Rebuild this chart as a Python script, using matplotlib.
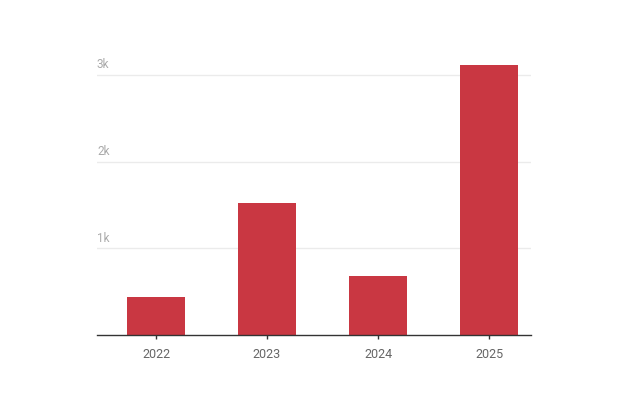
import numpy as np
import matplotlib
matplotlib.use("Agg")
import matplotlib.pyplot as plt

years = ["2022", "2023", "2024", "2025"]
values = [442, 1519, 680, 3110]
ytick_vals = [1000, 2000, 3000]
ytick_labels = ["1k", "2k", "3k"]

plt.rcParams['font.family'] = ['Roboto', 'DejaVu Sans']

fig = plt.figure(figsize=(6.24, 4.16), dpi=100)
ax = fig.add_axes([0.1554, 0.1947, 0.6955, 0.667])

x = np.arange(len(years))
ax.bar(x, values, width=0.525, color="#c93742", zorder=3)

ax.set_xlim(-0.532, 3.378)
ax.set_ylim(0, 3200)

# gridlines + labels sitting above them
for v, lab in zip(ytick_vals, ytick_labels):
    ax.axhline(v, color="#ebebeb", linewidth=1, zorder=1)
    ax.annotate(lab, xy=(0, v), xycoords=("axes fraction", "data"),
                xytext=(0, 2.5), textcoords="offset points",
                ha="left", va="bottom", fontsize=8.5, color="#aaaaaa")

ax.set_yticks([])
ax.set_xticks(x)
ax.set_xticklabels(years, fontsize=9, color="#666666")
ax.tick_params(axis="x", length=3, width=1, color="#333333", pad=6)

for side in ["top", "right", "left"]:
    ax.spines[side].set_visible(False)
ax.spines["bottom"].set_color("#333333")
ax.spines["bottom"].set_linewidth(1)
ax.spines["bottom"].set_zorder(4)

fig.savefig("out.png", dpi=100)
